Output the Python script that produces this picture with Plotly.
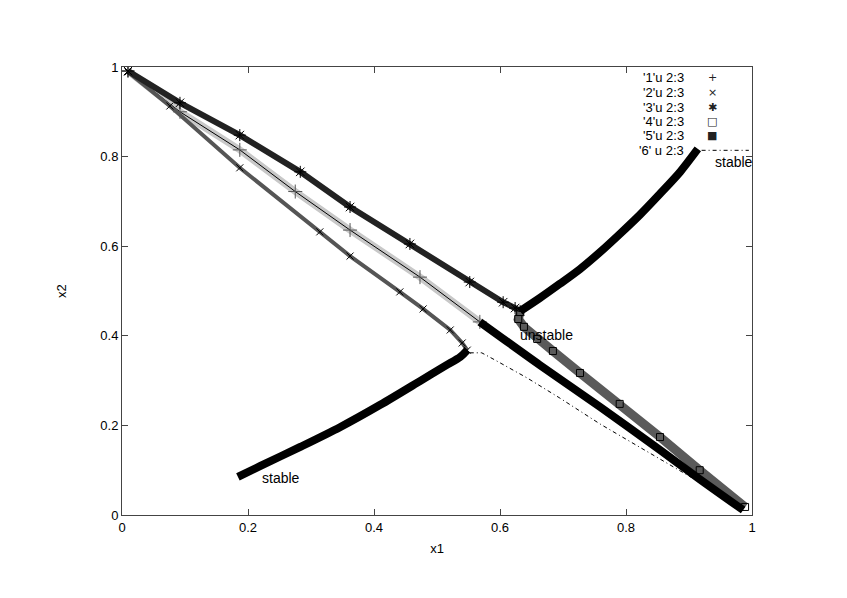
import plotly.graph_objects as go

# ---- data (x1, x2) ----
# series '1' (+): middle branch
s1_x1 = [0.0095, 0.092, 0.187, 0.275, 0.362, 0.473, 0.568]
s1_x2 = [0.991, 0.900, 0.815, 0.722, 0.636, 0.531, 0.431]
# series '2' (x): lower branch
s2_x1 = [0.0095, 0.076, 0.187, 0.314, 0.362, 0.441, 0.478, 0.521, 0.540, 0.548]
s2_x2 = [0.989, 0.913, 0.775, 0.632, 0.578, 0.498, 0.460, 0.413, 0.384, 0.368]
# series '3' (*): upper branch
s3_x1 = [0.0095, 0.092, 0.187, 0.283, 0.362, 0.457, 0.552, 0.605, 0.624, 0.632]
s3_x2 = [0.991, 0.920, 0.848, 0.766, 0.6875, 0.605, 0.520, 0.475, 0.462, 0.455]
# series '4' (open squares): unstable right branch
s4_x1 = [0.632, 0.629, 0.638, 0.659, 0.684, 0.727, 0.790, 0.854, 0.917, 0.989]
s4_x2 = [0.453, 0.4375, 0.420, 0.393, 0.366, 0.317, 0.248, 0.174, 0.100, 0.018]
# series '5' (filled squares): stable branches
s5a_x1 = [0.632, 0.663, 0.695, 0.727, 0.759, 0.790, 0.822, 0.854, 0.886, 0.914]
s5a_x2 = [0.455, 0.484, 0.516, 0.549, 0.587, 0.627, 0.670, 0.717, 0.766, 0.817]
s5b_x1 = [0.548, 0.537, 0.513, 0.473, 0.410, 0.346, 0.283, 0.219, 0.184]
s5b_x2 = [0.368, 0.353, 0.333, 0.299, 0.246, 0.196, 0.152, 0.109, 0.085]
s5c_x1 = [0.568, 0.663, 0.759, 0.854, 0.917, 0.986]
s5c_x2 = [0.431, 0.335, 0.241, 0.145, 0.080, 0.011]
# series '6' (dash-dot line)
s6_x1 = [0.552, 0.571, 0.592, 0.643, 0.695, 0.759, 0.838, 0.917, 0.984]
s6_x2 = [0.362, 0.362, 0.346, 0.306, 0.261, 0.203, 0.138, 0.074, 0.018]

legend_labels = ["'1'u 2:3", "'2'u 2:3", "'3'u 2:3", "'4'u 2:3", "'5'u 2:3", "'6' u 2:3"]
legend_symbols = ["+", "×", "✱", "□", "■", ""]
ticks = [0, 0.2, 0.4, 0.6, 0.8, 1]
tick_text = ["0", "0.2", "0.4", "0.6", "0.8", "1"]

FONT = "Liberation Sans, Arial, sans-serif"

fig = go.Figure()

# series 1: faint band of dense '+' arms, thin black centre line, markers
fig.add_trace(go.Scatter(x=s1_x1, y=s1_x2, mode="lines",
                         line=dict(color="#c8c8c8", width=7), hoverinfo="skip"))
fig.add_trace(go.Scatter(x=s1_x1, y=s1_x2, mode="lines+markers",
                         line=dict(color="black", width=1),
                         marker=dict(symbol="cross-thin-open", size=10, color="#555",
                                     line=dict(width=1, color="#555"))))
fig.add_trace(go.Scatter(x=s2_x1, y=s2_x2, mode="lines+markers",
                         line=dict(color="#555", width=4),
                         marker=dict(symbol="x-thin-open", size=7, color="black",
                                     line=dict(width=1, color="black"))))
fig.add_trace(go.Scatter(x=s3_x1, y=s3_x2, mode="lines+markers",
                         line=dict(color="#222", width=6),
                         marker=dict(symbol="asterisk-open", size=10, color="black",
                                     line=dict(width=1, color="black"))))
fig.add_trace(go.Scatter(x=s4_x1, y=s4_x2, mode="lines+markers",
                         line=dict(color="#5a5a5a", width=9),
                         marker=dict(symbol="square-open", size=7, color="black",
                                     line=dict(width=1, color="black"))))
for xs, ys in [(s5a_x1, s5a_x2), (s5b_x1, s5b_x2), (s5c_x1, s5c_x2)]:
    fig.add_trace(go.Scatter(x=xs, y=ys, mode="lines",
                             line=dict(color="black", width=8, shape="spline", smoothing=0.8)))
fig.add_trace(go.Scatter(x=s6_x1, y=s6_x2, mode="lines",
                         line=dict(color="black", width=1, dash="4px,3px,1px,3px")))

# gnuplot-style key (text then sample)
rows_y = [0.977, 0.943, 0.910, 0.878, 0.846, 0.814]
for lab, sym, yy in zip(legend_labels, legend_symbols, rows_y):
    fig.add_annotation(x=0.895, y=yy, xref="paper", yref="paper", text=lab,
                       showarrow=False, xanchor="right", yanchor="middle",
                       font=dict(family=FONT, size=13, color="black"))
    if sym:
        fig.add_annotation(x=0.937, y=yy, xref="paper", yref="paper", text=sym,
                           showarrow=False, xanchor="center", yanchor="middle",
                           font=dict(family="DejaVu Sans", size=11, color="#222"))
fig.add_shape(type="line", xref="paper", yref="paper", x0=0.92, x1=0.995,
              y0=rows_y[5], y1=rows_y[5], line=dict(color="black", width=1, dash="4px,3px,1px,3px"))

for txt, xx, yy in [("stable", 0.219, 0.083), ("unstable", 0.629, 0.402), ("stable", 0.938, 0.788)]:
    fig.add_annotation(x=xx, y=yy, text=txt, showarrow=False, xanchor="left", yanchor="middle",
                       font=dict(family=FONT, size=14, color="black"))

axis_common = dict(range=[0, 1], tickvals=ticks, ticktext=tick_text, ticks="inside",
                   ticklen=6, tickcolor="#444", showline=True, linecolor="#444", linewidth=1,
                   mirror="ticks", showgrid=False, zeroline=False,
                   tickfont=dict(family=FONT, size=13, color="black"))
fig.update_xaxes(**axis_common, title=dict(text="x1", font=dict(family=FONT, size=13, color="black"), standoff=10))
fig.update_yaxes(**axis_common, title=dict(text="x2", font=dict(family=FONT, size=13, color="black"), standoff=30))

fig.update_layout(width=847, height=598, showlegend=False,
                  plot_bgcolor="white", paper_bgcolor="white",
                  margin=dict(l=114, r=103, t=59, b=91))

fig.write_html("out.html")
